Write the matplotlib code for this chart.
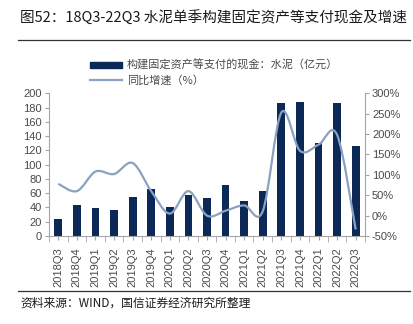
import matplotlib
matplotlib.use("Agg")
import matplotlib.pyplot as plt
import numpy as np
from matplotlib.path import Path
from matplotlib.patches import PathPatch, Rectangle
from matplotlib.lines import Line2D

plt.rcParams['font.family'] = ['Noto Sans CJK SC', 'DejaVu Sans']

# quarterly data
quarters = ["2018Q3", "2018Q4", "2019Q1", "2019Q2", "2019Q3", "2019Q4",
            "2020Q1", "2020Q2", "2020Q3", "2020Q4", "2021Q1", "2021Q2",
            "2021Q3", "2021Q4", "2022Q1", "2022Q2", "2022Q3"]
capex = [24, 43.5, 39, 36, 54, 66, 40, 57, 53, 72, 48.5, 62.5,
         187, 188.5, 131, 187, 125.5]          # 亿元
yoy = [78, 60, 108, 102, 129, 60, 5, 60, 0, 12, 25, 11,
       253, 159, 174, 198, -34]                 # %

bar_color = "#0b2856"
line_color = "#8aa2bf"
grid_gray = "#a6a6a6"
text_color = "#4a4a4a"
tick_font = ["Liberation Sans", "DejaVu Sans"]

fig = plt.figure(figsize=(4.13, 3.24), dpi=100)
ax = fig.add_axes([49 / 413, 1 - 236 / 324, (365 - 49) / 413, (236 - 93.3) / 324])
ax2 = ax.twinx()

x = np.arange(len(quarters))
bars = ax.bar(x, capex, width=0.42, color=bar_color, zorder=2)
ax.set_xlim(-0.5, len(quarters) - 0.5)
ax.set_ylim(0, 200)
ax.set_yticks(np.arange(0, 201, 20))

# smoothed growth line (Catmull-Rom segments as cubic Beziers)
pts = np.column_stack([x, yoy]).astype(float)
verts = [pts[0]]
codes = [Path.MOVETO]
for i in range(len(pts) - 1):
    p0 = pts[i - 1] if i > 0 else pts[i]
    p1, p2 = pts[i], pts[i + 1]
    p3 = pts[i + 2] if i + 2 < len(pts) else pts[i + 1]
    verts += [p1 + (p2 - p0) / 6, p2 - (p3 - p1) / 6, p2]
    codes += [Path.CURVE4] * 3
ax2.add_patch(PathPatch(Path(verts, codes), facecolor="none",
                        edgecolor=line_color, lw=1.6, zorder=3))
ax2.set_ylim(-50, 300)
ax2.set_yticks(np.arange(-50, 301, 50))
ax2.set_yticklabels([f"{v}%" for v in range(-50, 301, 50)])

ax.set_xticks(x)
ax.set_xticklabels(quarters, rotation=90)
ax.set_xticks(np.arange(-0.5, len(quarters), 1), minor=True)
ax.tick_params(axis="x", which="major", length=0, pad=5)
ax.tick_params(axis="x", which="minor", length=4, color=grid_gray)

for a in (ax, ax2):
    a.spines["top"].set_visible(False)
    for s in a.spines.values():
        s.set_color(grid_gray)
        s.set_linewidth(0.8)
    a.tick_params(labelsize=8, colors=text_color, length=3)
    a.tick_params(axis="y", color=grid_gray, pad=2)
    for lbl in a.get_xticklabels() + a.get_yticklabels():
        lbl.set_family(tick_font)
ax.tick_params(axis="x", which="both", color=grid_gray)
ax2.spines["left"].set_visible(False)
ax.spines["right"].set_visible(False)
ax2.spines["bottom"].set_visible(False)
ax.set_zorder(ax2.get_zorder() - 1)
ax.patch.set_visible(False)
ax2.patch.set_visible(False)

# legend
handles = [Rectangle((0, 0), 1, 1, color=bar_color),
           Line2D([0], [0], color=line_color, lw=1.6)]
labels = ["构建固定资产等支付的现金：水泥（亿元）", "同比增速（%）"]
fig.legend(handles, labels, loc="upper left", bbox_to_anchor=(80 / 413, 1 - 50 / 324),
           frameon=False, fontsize=8, handlelength=2.9, handleheight=0.5,
           handletextpad=0.4, labelspacing=0.35, labelcolor=text_color)

# title, rules and source note
fig.text(20 / 413, 1 - 18 / 324, "图52：18Q3-22Q3 水泥单季构建固定资产等支付现金及增速",
         fontsize=10.5, va="center", ha="left", color="#1a1a1a")
fig.add_artist(Line2D([18 / 413, 410 / 413], [1 - 39.5 / 324] * 2, color="#333333", lw=0.9))
fig.add_artist(Line2D([18 / 413, 410 / 413], [1 - 291 / 324] * 2, color="#333333", lw=0.9))
fig.text(20 / 413, 1 - 303 / 324, "资料来源：WIND，国信证券经济研究所整理",
         fontsize=8.5, va="center", ha="left", color="#1a1a1a")

fig.savefig("out.png", dpi=100)
